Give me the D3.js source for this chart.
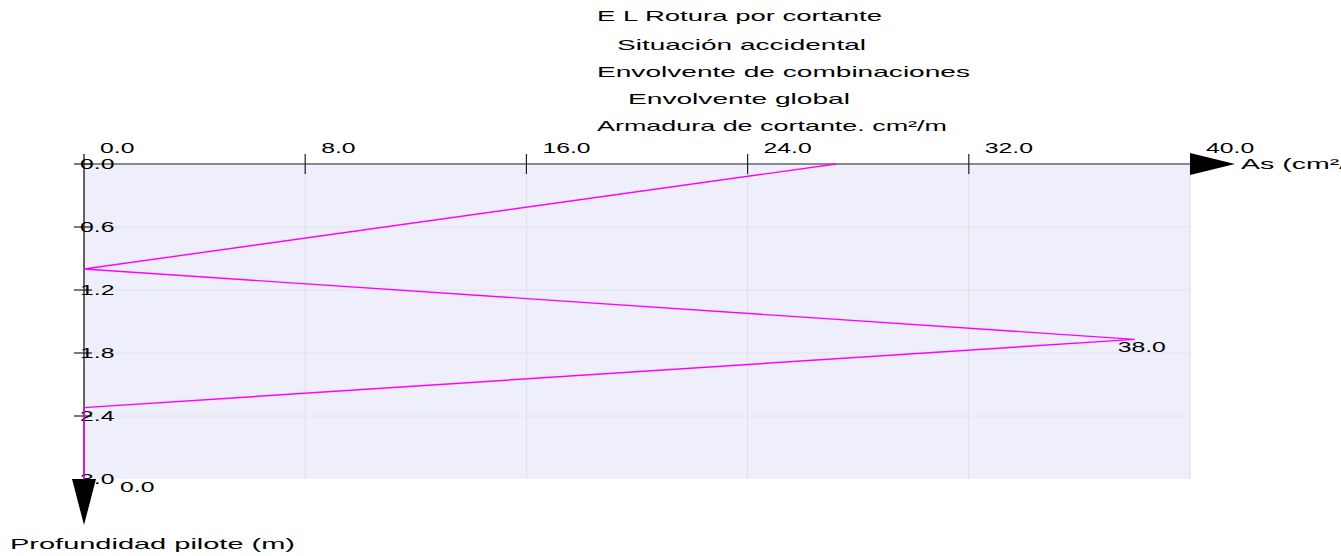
<!DOCTYPE html>
<html>
<head>
<meta charset="utf-8">
<script src="https://cdn.jsdelivr.net/npm/d3@7"></script>
<style>
  body { margin: 0; background: #fff; }
  svg { display: block; }
  text { font-family: "Liberation Sans", Arial, sans-serif; fill: #000; }
</style>
</head>
<body>
<div id="chart"></div>
<script>
// armadura de cortante (cm2/m) frente a profundidad (m)
var armadura = [27.2, 0.0, 38.0, 0.0, 0.0];
var profundidad = [0.0, 1.0, 1.67, 2.32, 3.0];
var xTicks = [0, 8, 16, 24, 32, 40];
var yTicks = [0, 0.6, 1.2, 1.8, 2.4, 3.0];
var titulos = ["E L Rotura por cortante", "Situación accidental", "Envolvente de combinaciones",
               "Envolvente global", "Armadura de cortante. cm²/m"];
var etiquetas = [{v: 38.0, i: 2}, {v: 0.0, i: 4}];

var width = 1341, height = 556;
var svg = d3.select("#chart").append("svg")
    .attr("width", width)
    .attr("height", height);

var x = d3.scaleLinear().domain([0, 40]).range([84, 1190]);
var y = d3.scaleLinear().domain([0, 3]).range([164, 479]);

// stretch text horizontally like the original output
function stretch(sel, f, mode) {
    sel.each(function() {
        var w = this.getComputedTextLength();
        d3.select(this).attr("textLength", w * f).attr("lengthAdjust", mode || "spacingAndGlyphs");
    });
}

// plot background
svg.append("rect")
    .attr("x", x(0)).attr("y", y(0))
    .attr("width", x(40) - x(0)).attr("height", y(3) - y(0))
    .style("fill", "#efeffb");

svg.append("line")
    .attr("x1", x(40)).attr("x2", x(40)).attr("y1", y(0)).attr("y2", y(3))
    .style("stroke", "#dcdce4").style("stroke-width", 1);

// grid
svg.append("g").selectAll("line")
    .data(xTicks.slice(1, -1))
    .enter().append("line")
    .attr("x1", function(d) { return x(d); }).attr("x2", function(d) { return x(d); })
    .attr("y1", y(0)).attr("y2", y(3))
    .style("stroke", "#dedee6").style("stroke-width", 1);

svg.append("g").selectAll("line")
    .data(yTicks.slice(1, -1))
    .enter().append("line")
    .attr("x1", x(0)).attr("x2", x(40))
    .attr("y1", function(d) { return y(d); }).attr("y2", function(d) { return y(d); })
    .style("stroke", "#e2e2ea").style("stroke-width", 1);

// top axis
svg.append("line")
    .attr("x1", x(0)).attr("x2", x(40)).attr("y1", y(0)).attr("y2", y(0))
    .style("stroke", "#8a8a8a").style("stroke-width", 2);

svg.append("g").selectAll("line")
    .data(xTicks.slice(1, -1))
    .enter().append("line")
    .attr("x1", function(d) { return x(d); }).attr("x2", function(d) { return x(d); })
    .attr("y1", y(0) - 10).attr("y2", y(0) + 10)
    .style("stroke", "#222").style("stroke-width", 1.2);

svg.append("g").selectAll("text")
    .data(xTicks)
    .enter().append("text")
    .attr("x", function(d) { return x(d) + 16; })
    .attr("y", y(0) - 11)
    .style("font-size", "15px")
    .text(function(d) { return d.toFixed(1); })
    .call(stretch, 1.65);

// left axis
svg.append("line")
    .attr("x1", x(0)).attr("x2", x(0)).attr("y1", y(0) - 10).attr("y2", y(3))
    .style("stroke", "#333").style("stroke-width", 1.5);

svg.append("g").selectAll("line")
    .data(yTicks.slice(0, -1))
    .enter().append("line")
    .attr("x1", x(0) - 10).attr("x2", x(0) + 8)
    .attr("y1", function(d) { return y(d); }).attr("y2", function(d) { return y(d); })
    .style("stroke", "#222").style("stroke-width", 1.2);

svg.append("g").selectAll("text")
    .data(yTicks)
    .enter().append("text")
    .attr("x", x(0) - 4)
    .attr("y", function(d) { return y(d) + 5; })
    .style("font-size", "15px")
    .text(function(d) { return d.toFixed(1); })
    .call(stretch, 1.65);

// data line
var line = d3.line()
    .x(function(d, i) { return x(armadura[i]); })
    .y(function(d, i) { return y(profundidad[i]); });

svg.append("path")
    .datum(armadura)
    .attr("d", line)
    .style("fill", "none")
    .style("stroke", "#ff00ff")
    .style("stroke-width", 1.4);

svg.append("g").selectAll("text")
    .data(etiquetas)
    .enter().append("text")
    .attr("x", function(d) { return x(armadura[d.i]) + (d.v > 0 ? -17 : 36); })
    .attr("y", function(d) { return y(profundidad[d.i]) + 13; })
    .style("font-size", "15px")
    .text(function(d) { return d.v.toFixed(1); })
    .call(stretch, 1.65);

// arrows
svg.append("path")
    .attr("d", "M" + x(40) + "," + (y(0) - 11) + "L" + (x(40) + 45) + "," + y(0) + "L" + x(40) + "," + (y(0) + 11) + "Z")
    .style("fill", "#000");

svg.append("path")
    .attr("d", "M" + (x(0) - 12) + "," + y(3) + "L" + x(0) + "," + (y(3) + 46) + "L" + (x(0) + 12) + "," + y(3) + "Z")
    .style("fill", "#000");

// axis titles
svg.append("text")
    .attr("x", 1241).attr("y", 169)
    .style("font-size", "15px")
    .text("As (cm²/m)")
    .call(stretch, 1.9);

svg.append("text")
    .attr("x", 10).attr("y", 549)
    .style("font-size", "15px")
    .text("Profundidad pilote (m)")
    .attr("textLength", 285)
    .attr("lengthAdjust", "spacingAndGlyphs");

// titles
var tx = [597, 617, 597, 628, 597];
var ty = [21, 50, 77, 104, 131];
var tw = [285, 249, 373, 222, 350];
svg.append("g").selectAll("text")
    .data(titulos)
    .enter().append("text")
    .attr("x", function(d, i) { return tx[i]; })
    .attr("y", function(d, i) { return ty[i]; })
    .style("font-size", "15px")
    .text(function(d) { return d; })
    .attr("textLength", function(d, i) { return tw[i]; })
    .attr("lengthAdjust", "spacingAndGlyphs");
</script>
</body>
</html>
